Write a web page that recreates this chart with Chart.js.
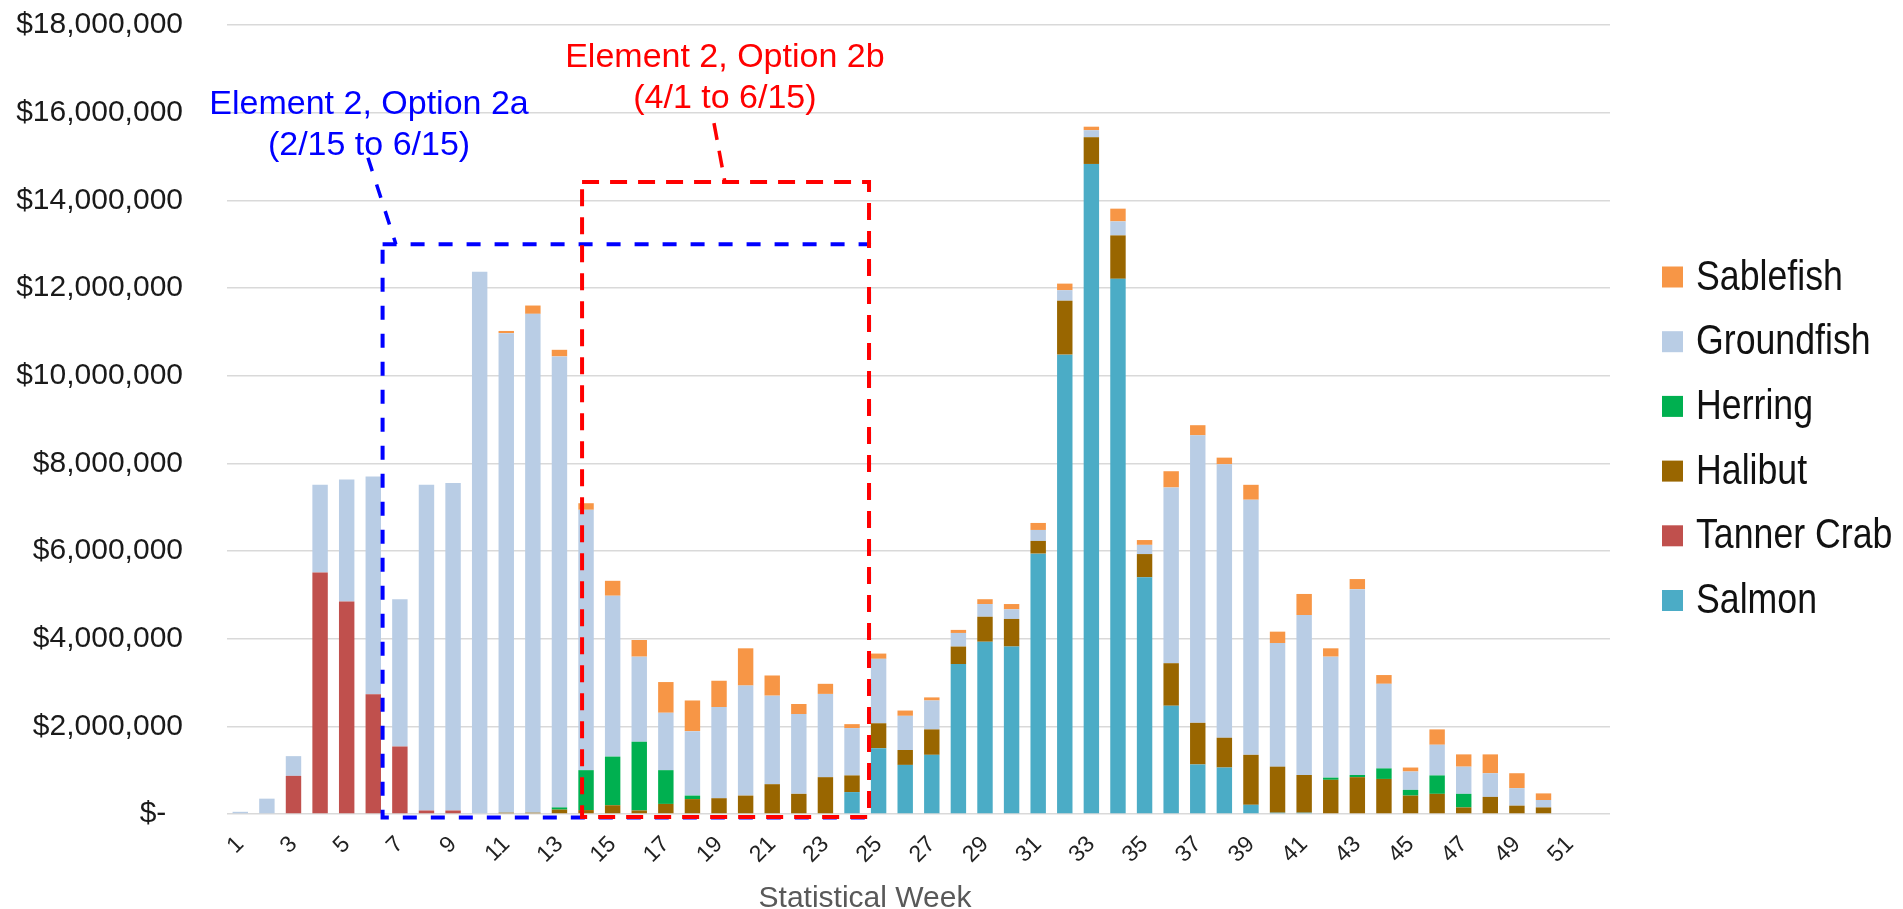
<!DOCTYPE html>
<html>
<head>
<meta charset="utf-8">
<title>Weekly value by species</title>
<script src="https://cdn.jsdelivr.net/npm/chart.js@4.4.1/dist/chart.umd.min.js"></script>
<style>
    html, body { margin: 0; padding: 0; background: #fff; }
    #box { width: 1903px; height: 909px; position: relative; }
</style>
</head>
<body>
<div id="box"><canvas id="weekly"></canvas></div>
<script>
const weeks = ['1', '2', '3', '4', '5', '6', '7', '8', '9', '10', '11', '12', '13', '14', '15', '16', '17', '18', '19', '20',
    '21', '22', '23', '24', '25', '26', '27', '28', '29', '30', '31', '32', '33', '34', '35', '36', '37', '38', '39', '40',
    '41', '42', '43', '44', '45', '46', '47', '48', '49', '50', '51', '52'];

// dollars per statistical week
const salmon = [0, 0, 0, 0, 0, 0, 0, 0, 0, 0, 0, 0, 0, 0, 0, 0, 0, 0, 0, 0,
    0, 0, 0, 500000, 1500000, 1120000, 1350000, 3420000, 3930000, 3820000, 5940000, 10480000, 14830000, 12210000, 5400000, 2470000, 1130000, 1060000, 210000, 30000,
    30000, 0, 0, 0, 0, 0, 0, 0, 0, 0, 0, 0];
const tannerCrab = [0, 0, 870000, 5510000, 4850000, 2730000, 1540000, 80000, 80000, 0, 0, 0, 0, 0, 0, 0, 0, 0, 0, 0,
    0, 0, 0, 0, 0, 0, 0, 0, 0, 0, 0, 0, 0, 0, 0, 0, 0, 0, 0, 0,
    0, 0, 0, 0, 0, 0, 0, 0, 0, 0, 0, 0];
const halibut = [0, 0, 0, 0, 0, 0, 0, 0, 0, 0, 30000, 30000, 100000, 90000, 200000, 80000, 230000, 340000, 360000, 420000,
    680000, 460000, 840000, 380000, 570000, 340000, 580000, 400000, 570000, 630000, 290000, 1230000, 610000, 990000, 530000, 970000, 950000, 680000, 1140000, 1050000,
    860000, 780000, 840000, 800000, 420000, 460000, 150000, 390000, 190000, 150000, 0, 0];
const herring = [0, 0, 0, 0, 0, 0, 0, 0, 0, 0, 0, 0, 50000, 910000, 1110000, 1570000, 770000, 80000, 0, 0,
    0, 0, 0, 0, 0, 0, 0, 0, 0, 0, 0, 0, 0, 0, 0, 0, 0, 0, 0, 0,
    0, 50000, 50000, 240000, 130000, 420000, 310000, 0, 0, 0, 0, 0];
const groundfish = [50000, 350000, 450000, 2000000, 2780000, 4970000, 3360000, 7430000, 7470000, 12370000, 10940000, 11380000, 10290000, 5940000, 3670000, 1940000, 1310000, 1470000, 2080000, 2510000,
    2020000, 1820000, 1900000, 1080000, 1470000, 780000, 660000, 310000, 290000, 220000, 250000, 240000, 160000, 320000, 210000, 4010000, 6560000, 6240000, 5820000, 2820000,
    3650000, 2760000, 4240000, 1930000, 420000, 700000, 620000, 540000, 400000, 170000, 0, 0];
const sablefish = [0, 0, 0, 0, 0, 0, 0, 0, 0, 0, 50000, 190000, 150000, 150000, 340000, 380000, 700000, 700000, 600000, 850000,
    460000, 230000, 230000, 90000, 120000, 120000, 70000, 70000, 110000, 120000, 160000, 150000, 80000, 290000, 110000, 370000, 230000, 150000, 340000, 260000,
    480000, 190000, 230000, 200000, 90000, 350000, 280000, 430000, 340000, 150000, 0, 0];

const FONT = "'Liberation Sans', Arial, sans-serif";
Chart.defaults.font.family = FONT;

// option windows, in axis units (category index / dollars)
const optionBoxes = [
    {
        color: '#0000ff', dash: [14, 14],
        x0: 5.35, x1: 23.64, y0: -80000, y1: 13000000,
        lead: [[4.80, 14970000], [5.85, 13000000]],
        textX: 4.84, lines: [['Element 2, Option 2a', 15960000], ['(2/15 to 6/15)', 15030000]]
    },
    {
        color: '#ff0000', dash: [17, 11],
        x0: 12.85, x1: 23.64, y0: -70000, y1: 14420000,
        lead: [[17.81, 15760000], [18.22, 14420000]],
        textX: 18.22, lines: [['Element 2, Option 2b', 17040000], ['(4/1 to 6/15)', 16110000]]
    }
];

const boxPlugin = {
    id: 'optionBoxes',
    afterDatasetsDraw(chart) {
        const c = chart.ctx;
        const x = chart.scales.x;
        const y = chart.scales.y;
        optionBoxes.forEach(b => {
            c.save();
            c.strokeStyle = b.color;
            c.lineWidth = 4;
            c.setLineDash(b.dash);
            const l = x.getPixelForValue(b.x0), r = x.getPixelForValue(b.x1);
            const t = y.getPixelForValue(b.y1), btm = y.getPixelForValue(b.y0);
            c.strokeRect(l, t, r - l, btm - t);
            c.lineWidth = 3.5;
            c.beginPath();
            c.moveTo(x.getPixelForValue(b.lead[0][0]), y.getPixelForValue(b.lead[0][1]));
            c.lineTo(x.getPixelForValue(b.lead[1][0]), y.getPixelForValue(b.lead[1][1]));
            c.stroke();
            c.setLineDash([]);
            c.fillStyle = b.color;
            c.font = '34px ' + FONT;
            c.textAlign = 'center';
            c.textBaseline = 'alphabetic';
            b.lines.forEach(ln => {
                c.fillText(ln[0], x.getPixelForValue(b.textX), y.getPixelForValue(ln[1]));
            });
            c.restore();
        });
    },
    afterDraw(chart) {
        const c = chart.ctx;
        const area = chart.chartArea;
        c.save();
        // axis title
        c.fillStyle = '#595959';
        c.font = '30px ' + FONT;
        c.textAlign = 'center';
        c.textBaseline = 'alphabetic';
        c.fillText('Statistical Week', area.left + 638, area.bottom + 93);
        // legend, top item is the top of the stack
        const sets = chart.data.datasets.slice().reverse();
        c.font = '42px ' + FONT;
        c.textAlign = 'left';
        c.textBaseline = 'middle';
        sets.forEach((ds, i) => {
            const cy = area.top + 252 + i * 64.7;
            c.fillStyle = ds.backgroundColor;
            c.fillRect(area.right + 52, cy - 10.5, 21, 21);
            c.fillStyle = '#111';
            c.save();
            c.translate(area.right + 86, cy + 1);
            c.scale(0.85, 1);
            c.fillText(ds.label, 0, 0);
            c.restore();
        });
        c.restore();
    }
};

const weekly_ctx = document.getElementById('weekly');

let weekly = new Chart(weekly_ctx, {
    type: 'bar',
    data: {
        labels: weeks,
        datasets: [
            { label: 'Salmon', data: salmon, backgroundColor: '#4bacc6' },
            { label: 'Tanner Crab', data: tannerCrab, backgroundColor: '#c0504d' },
            { label: 'Halibut', data: halibut, backgroundColor: '#996600' },
            { label: 'Herring', data: herring, backgroundColor: '#00b050' },
            { label: 'Groundfish', data: groundfish, backgroundColor: '#b9cde5' },
            { label: 'Sablefish', data: sablefish, backgroundColor: '#f79646' }
        ]
    },
    options: {
        responsive: true,
        maintainAspectRatio: false,
        animation: false,
        datasets: {
            bar: { categoryPercentage: 1.0, barPercentage: 0.58, borderWidth: 0 }
        },
        layout: {
            padding: { top: 25, left: 13, right: 293, bottom: 0 }
        },
        plugins: {
            legend: { display: false },
            tooltip: { enabled: false }
        },
        scales: {
            x: {
                stacked: true,
                grid: { display: false, drawTicks: false },
                border: { display: false },
                ticks: {
                    autoSkip: false,
                    maxRotation: 45,
                    minRotation: 45,
                    padding: 17,
                    color: '#222',
                    font: { size: 23 },
                    callback: (v, i) => (i % 2 === 0 ? weeks[i] : '')
                },
                afterFit: (scale) => { scale.height = 95; }
            },
            y: {
                stacked: true,
                min: 0,
                max: 18000000,
                grid: { color: '#d9d9d9', lineWidth: 1.5, drawTicks: false },
                border: { display: false },
                ticks: {
                    stepSize: 2000000,
                    padding: 44,
                    color: '#1a1a1a',
                    font: { size: 30 },
                    callback: (v) => (v === 0 ? '$-  ' : '$' + v.toLocaleString('en-US'))
                },
                afterFit: (scale) => {
                    scale.width = 214;
                    scale.paddingTop = 0;
                }
            }
        }
    },
    plugins: [boxPlugin]
});
</script>
</body>
</html>
